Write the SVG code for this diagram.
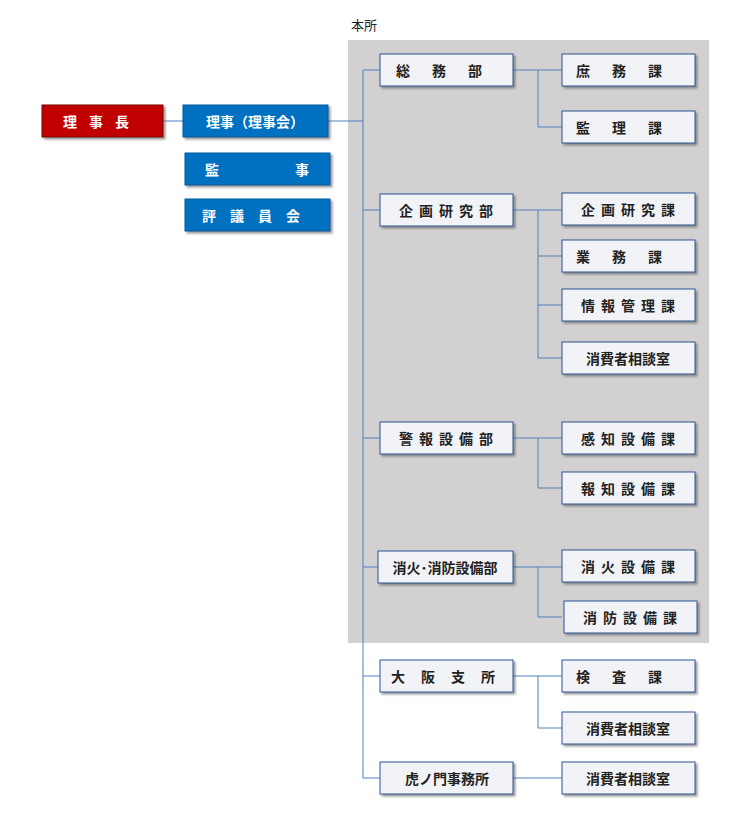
<svg xmlns="http://www.w3.org/2000/svg" width="737" height="832" viewBox="0 0 737 832">
<defs>
<filter id="sh" x="-10%" y="-20%" width="130%" height="160%"><feDropShadow dx="2" dy="2" stdDeviation="1.2" flood-color="#555" flood-opacity="0.6"/></filter>
<style>
.b{fill:#f2f3f6;stroke:#2f5597;stroke-width:1;filter:url(#sh)}
.r{fill:#c00000;stroke:#7a0000;filter:url(#sh)}
.u{fill:#0070c0;stroke:#005a9e;filter:url(#sh)}
text{font-family:"Noto Sans CJK JP",sans-serif;font-size:14px;font-weight:bold;text-anchor:middle;dominant-baseline:central}
.w{fill:#fff}
.k{fill:#222}
#c path{stroke:#4f81bd;stroke-width:1;fill:none}
</style>
</defs>
<rect width="737" height="832" fill="#fff"/>
<rect x="348" y="40" width="361" height="603" fill="#d2d0d1"/>
<text x="364" y="24" class="k" style="font-weight:normal;font-size:13px">本所</text>
<g id="c">
<path d="M163 121H183M328 121H363M363 70V778M363 70H380M363 210H380M363 438H380M363 567H378M363 676H380M363 778H380"/>
<path d="M513 70H562M538 70V127H562M513 210H562M538 210V358H562M538 256H562M538 305H562M513 438H562M538 438V488H562M513 567H562M538 567V617H562M513 676H562M538 676V728H562M513 778H562"/>
</g>
<g id="rijicho"><rect class="r" x="42" y="105" width="121" height="32"/><text class="w" x="102" y="121" letter-spacing="12">理事長</text></g>
<g id="riji"><rect class="u" x="183" y="105" width="145" height="32"/><text class="w" x="255" y="121">理事（理事会）</text></g>
<g id="kanji"><rect class="u" x="185" y="153" width="145" height="32"/><text class="w" x="212" y="169">監</text><text class="w" x="302" y="169">事</text></g>
<g id="hyogiin"><rect class="u" x="185" y="199" width="145" height="32"/><text class="w" x="258" y="215" letter-spacing="14">評議員会</text></g>
<g id="somu"><rect class="b" x="380" y="54" width="133" height="32"/><text class="k" x="450" y="70" letter-spacing="22">総務部</text></g>
<g id="kikaku"><rect class="b" x="380" y="194" width="133" height="32"/><text class="k" x="449" y="210" letter-spacing="6">企画研究部</text></g>
<g id="keiho"><rect class="b" x="380" y="422" width="133" height="32"/><text class="k" x="449" y="438" letter-spacing="6">警報設備部</text></g>
<g id="shoka"><rect class="b" x="378" y="551" width="135" height="32"/><text class="k" x="445" y="567">消火･消防設備部</text></g>
<g id="osaka"><rect class="b" x="380" y="660" width="133" height="32"/><text class="k" x="451" y="676" letter-spacing="16">大阪支所</text></g>
<g id="toranomon"><rect class="b" x="380" y="762" width="133" height="32"/><text class="k" x="447" y="778">虎ノ門事務所</text></g>
<g id="shomu"><rect class="b" x="562" y="54" width="133" height="32"/><text class="k" x="630" y="70" letter-spacing="22">庶務課</text></g>
<g id="kanri"><rect class="b" x="562" y="111" width="133" height="32"/><text class="k" x="630" y="127" letter-spacing="22">監理課</text></g>
<g id="kikakuka"><rect class="b" x="562" y="193" width="133" height="32"/><text class="k" x="631" y="209" letter-spacing="6">企画研究課</text></g>
<g id="gyomu"><rect class="b" x="562" y="240" width="133" height="32"/><text class="k" x="630" y="256" letter-spacing="22">業務課</text></g>
<g id="joho"><rect class="b" x="562" y="289" width="133" height="32"/><text class="k" x="631" y="305" letter-spacing="6">情報管理課</text></g>
<g id="shohisha1"><rect class="b" x="562" y="342" width="133" height="32"/><text class="k" x="628" y="358">消費者相談室</text></g>
<g id="kanchi"><rect class="b" x="562" y="422" width="133" height="32"/><text class="k" x="631" y="438" letter-spacing="6">感知設備課</text></g>
<g id="hochi"><rect class="b" x="562" y="472" width="133" height="32"/><text class="k" x="631" y="488" letter-spacing="6">報知設備課</text></g>
<g id="shokaka"><rect class="b" x="562" y="550" width="133" height="32"/><text class="k" x="631" y="566" letter-spacing="6">消火設備課</text></g>
<g id="shoboka"><rect class="b" x="564" y="601" width="133" height="32"/><text class="k" x="633" y="617" letter-spacing="6">消防設備課</text></g>
<g id="kensa"><rect class="b" x="562" y="660" width="133" height="32"/><text class="k" x="630" y="676" letter-spacing="22">検査課</text></g>
<g id="shohisha2"><rect class="b" x="562" y="712" width="133" height="32"/><text class="k" x="628" y="728">消費者相談室</text></g>
<g id="shohisha3"><rect class="b" x="562" y="762" width="133" height="32"/><text class="k" x="628" y="778">消費者相談室</text></g>
</svg>
